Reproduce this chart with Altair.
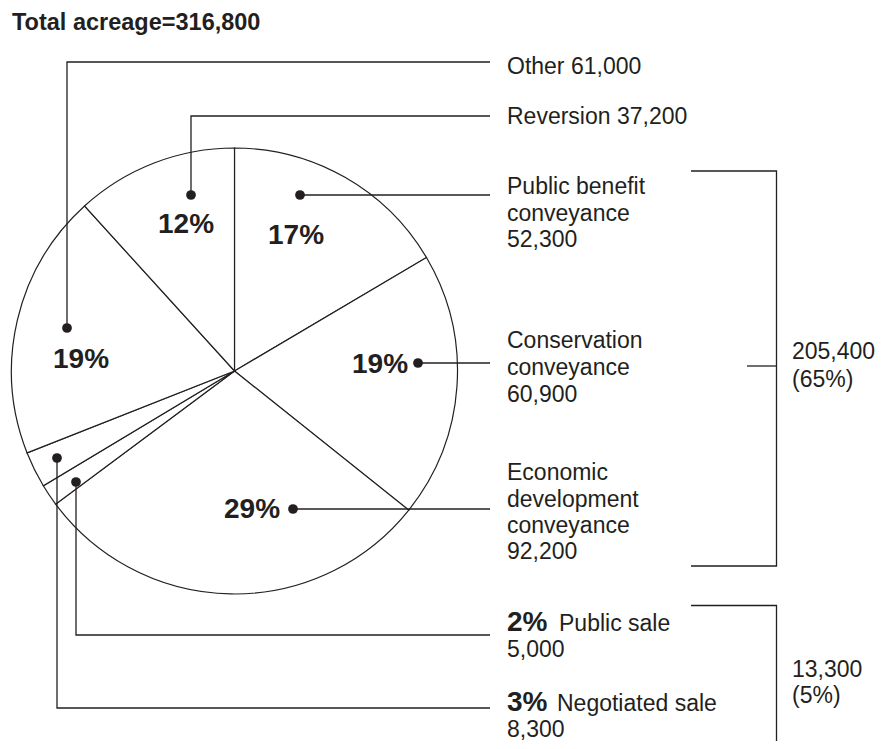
import altair as alt
import pandas as pd

# ---- data ----
categories = ["Public benefit conveyance", "Conservation conveyance",
              "Economic development conveyance", "Public sale",
              "Negotiated sale", "Other", "Reversion"]
acreage = [52300, 60900, 92200, 5000, 8300, 61000, 37200]
pct_labels = ["17%", "19%", "29%", "2%", "3%", "19%", "12%"]
title_text = "Total acreage=316,800"
group_totals = ["205,400", "(65%)", "13,300", "(5%)"]

# ---- layout (reference pixel coordinates; page margin is 8px) ----
M = 8
W, H = 867, 733
CX, CY, R = 234.5, 371, 223
INK = "#231f20"
FONT = "Liberation Sans"

pie_df = pd.DataFrame({"cat": categories, "value": acreage,
                       "ord": list(range(len(categories)))})

# percent labels inside pie (center x, baseline y) for slices that show them
pct_pos = {0: (296, 244), 1: (380, 373), 2: (252, 517.5), 5: (81, 367.5), 6: (186, 233)}
pct_df = pd.DataFrame([{"x": p[0], "y": p[1], "t": pct_labels[i]} for i, p in pct_pos.items()])

# dots
dot_x = [300, 418, 293, 76, 57, 67, 191]
dot_y = [195, 363, 509, 482, 458, 328, 195]
dots_df = pd.DataFrame({"x": dot_x, "y": dot_y})

# leader lines and brackets (polylines)
LX = 490
polylines = {
    "pb": [(300, 195), (LX, 195)],
    "cc": [(418, 363), (LX, 363)],
    "ed": [(293, 509), (LX, 509)],
    "ps": [(76, 482), (76, 635), (LX, 635)],
    "ns": [(57, 458), (57, 708), (LX, 708)],
    "ot": [(67, 328), (67, 62), (LX, 62)],
    "rv": [(191, 195), (191, 116), (LX, 116)],
    "b1": [(691, 171), (776.5, 171), (776.5, 566), (691, 566)],
    "b1t": [(747, 366), (776.5, 366)],
    "b2": [(691, 605.5), (776.5, 605.5), (776.5, M + H)],
}
rows = []
for k, pts in polylines.items():
    for i, (x, y) in enumerate(pts):
        rows.append({"id": k, "seq": i, "x": x, "y": y})
lines_df = pd.DataFrame(rows)

# label texts: (x, baseline y, text)
TX = 507
GX = 792
label_rows = [
    (TX, 73.5, f"{categories[5]} {acreage[5]:,}"),
    (TX, 124, f"{categories[6]} {acreage[6]:,}"),
    (TX, 194, "Public benefit"),
    (TX, 220.5, "conveyance"),
    (TX, 247, f"{acreage[0]:,}"),
    (TX, 348, "Conservation"),
    (TX, 375, "conveyance"),
    (TX, 402, f"{acreage[1]:,}"),
    (TX, 480, "Economic"),
    (TX, 507, "development"),
    (TX, 533, "conveyance"),
    (TX, 559, f"{acreage[2]:,}"),
    (559, 631, categories[3]),
    (TX, 657, f"{acreage[3]:,}"),
    (557, 711, categories[4]),
    (TX, 736.5, f"{acreage[4]:,}"),
    (GX, 359, group_totals[0]),
    (GX, 386.5, group_totals[1]),
    (GX, 677, group_totals[2]),
    (GX, 703, group_totals[3]),
]
reg_df = pd.DataFrame([{"x": r[0], "y": r[1], "t": r[2]} for r in label_rows])
title_df = pd.DataFrame({"x": [12], "y": [30], "t": [title_text]})
small_pct_df = pd.DataFrame({"x": [TX, TX], "y": [631, 711], "t": [pct_labels[3], pct_labels[4]]})

# ---- scales ----
xs = alt.Scale(domain=[M, M + W], nice=False, zero=False)
ys = alt.Scale(domain=[M, M + H], nice=False, zero=False, reverse=True)
X = alt.X("x:Q", scale=xs, axis=None)
Y = alt.Y("y:Q", scale=ys, axis=None)

pie = alt.Chart(pie_df).mark_arc(
    outerRadius=R, fill="white", stroke=INK, strokeWidth=1.2
).encode(
    theta=alt.Theta("value:Q", stack=True),
    order=alt.Order("ord:Q"),
    x=alt.value(CX - M),
    y=alt.value(CY - M),
)

lines = alt.Chart(lines_df).mark_line(color=INK, strokeWidth=1.3).encode(
    x=X, y=Y, detail="id:N", order="seq:Q",
)

dots = alt.Chart(dots_df).mark_circle(color=INK, opacity=1, size=95).encode(x=X, y=Y)

pct_text = alt.Chart(pct_df).mark_text(
    font=FONT, fontSize=28, fontWeight="bold", color=INK,
    align="center", baseline="alphabetic"
).encode(x=X, y=Y, text="t:N")

reg_text = alt.Chart(reg_df).mark_text(
    font=FONT, fontSize=23, color=INK, align="left", baseline="alphabetic"
).encode(x=X, y=Y, text="t:N")

title = alt.Chart(title_df).mark_text(
    font=FONT, fontSize=23.5, fontWeight="bold", color=INK, align="left", baseline="alphabetic"
).encode(x=X, y=Y, text="t:N")

small_pct = alt.Chart(small_pct_df).mark_text(
    font=FONT, fontSize=28, fontWeight="bold", color=INK, align="left", baseline="alphabetic"
).encode(x=X, y=Y, text="t:N")

chart = alt.layer(pie, lines, dots, pct_text, reg_text, title, small_pct).properties(
    width=W, height=H, padding=0, autosize=alt.AutoSizeParams(type="none"),
    background="white"
).configure_view(stroke=None)

chart.save("out.html", embed_options={"renderer": "svg", "actions": False})
